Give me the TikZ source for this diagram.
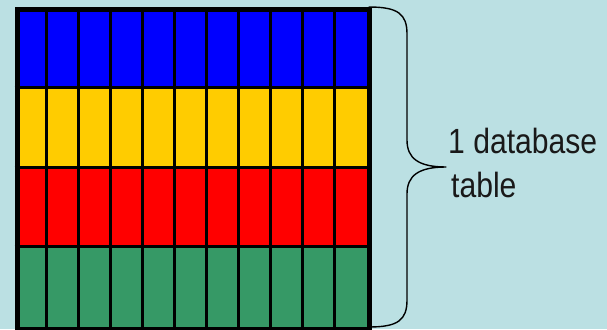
\documentclass[tikz,border=0pt]{standalone}
\usepackage{fontspec}
\newfontfamily\narrowsans[FakeStretch=0.86]{Liberation Sans}
\definecolor{bg}{RGB}{187,224,227}
\definecolor{cblue}{RGB}{0,0,255}
\definecolor{cyellow}{RGB}{255,204,0}
\definecolor{cred}{RGB}{255,0,0}
\definecolor{cgreen}{RGB}{54,153,102}
\tikzset{
  gridline/.style={line width=3pt,draw=black},
  frameline/.style={line width=5pt,draw=black},
  braceline/.style={line width=1.4pt,draw=black,line cap=round,line join=round},
  labeltext/.style={font=\narrowsans\fontsize{35}{42}\selectfont,text=black!90,inner sep=0pt,anchor=base west}
}
\begin{document}
\begin{tikzpicture}[x=1pt,y=-1pt]
  \fill[bg] (0,0) rectangle (607,329);
  \useasboundingbox (0,0) rectangle (607,329);
  % rows
  \def\xl{14.5}\def\xr{367}
  \fill[cblue]   (\xl,7.5)   rectangle (\xr,87.25);
  \fill[cyellow] (\xl,87.25) rectangle (\xr,167);
  \fill[cred]    (\xl,167)   rectangle (\xr,246.75);
  \fill[cgreen]  (\xl,246.75) rectangle (\xr,326.5);
  % horizontal grid lines
  \foreach \y in {87.25,167,246.75} \draw[gridline] (\xl,\y) -- (\xr,\y);
  % vertical grid lines
  \foreach \i in {1,...,10} \draw[gridline] ({\xl+\i*32.0455},7.5) -- ({\xl+\i*32.0455},326.5);
  % frame
  \node[frameline,rectangle,minimum width=352.5pt,minimum height=319pt,inner sep=0pt,anchor=north west] (table) at (\xl,7.5) {};
  % brace
  \coordinate (btop) at (369,7);
  \coordinate (bbot) at (369,327);
  \coordinate (btip) at (446,167);
  \draw[braceline] (btop) .. controls (398,7) and (407,14) .. (407,34)
     -- (407,140) .. controls (407,158) and (418,167) .. (btip)
     .. controls (418,167) and (407,176) .. (407,194)
     -- (407,300) .. controls (407,320) and (398,327) .. (bbot);
  % label
  \node[labeltext] (lab1) at (448,153) {1 database};
  \node[labeltext] (lab2) at (451,197) {table};
\end{tikzpicture}
\end{document}
